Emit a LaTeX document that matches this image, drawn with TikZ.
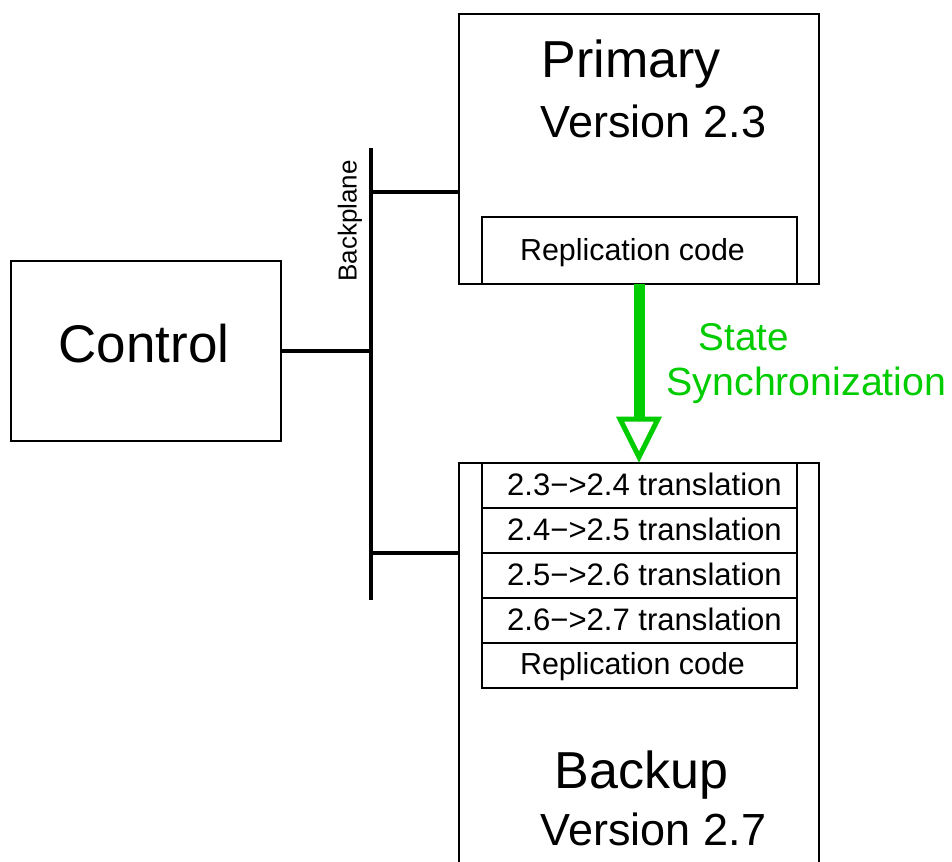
\documentclass[tikz,border=0pt]{standalone}
\usepackage{fontspec}
\setmainfont{Liberation Sans}
\definecolor{syncgreen}{RGB}{0,204,0}
\newcommand\pxfont[1]{\fontsize{#1}{#1}\selectfont}
\newcommand\tominus{\symbol{"2212}}
\begin{document}
\begin{tikzpicture}[x=0.75pt,y=-0.75pt,
  box/.style={draw, line width=1.1pt, inner sep=0pt, outer sep=0pt},
  bus/.style={line width=2.3pt},
  lbl/.style={inner sep=0pt, anchor=base},
  sync/.style={draw=syncgreen, line width=8.25pt, line cap=butt},
  synchead/.style={draw=syncgreen, fill=white, line width=3.75pt, line join=miter},
  rowbox/.style={box, minimum width=236.25pt, minimum height=33.75pt}]

\useasboundingbox (0,0) rectangle (952,861);
\clip (0,0) rectangle (952,861);

% Control unit
\node[box, minimum width=202.5pt, minimum height=135pt] (control) at (146,351) {};
\node[lbl] (controltxt) at (144,362) {\pxfont{39.75}Control};

% Primary unit
\node[box, minimum width=270pt, minimum height=202.5pt] (primary) at (639,149) {};
\node[lbl] (primtitle) at (631,77) {\pxfont{39}Primary};
\node[lbl] (primver) at (653.5,137) {\pxfont{33.75}Version 2.3};
\node[box, minimum width=236.25pt, minimum height=50.25pt] (primrep) at (639.5,250.5) {};
\node[lbl] (primreptxt) at (632.5,260) {\pxfont{22.8}Replication code};

% Backup unit with its translation stack
\node[box, minimum width=270pt, minimum height=327.75pt] (backup) at (639,681.5) {};
\node[rowbox] (t1) at (639.5,485.5) {};
\node[rowbox] (t2) at (639.5,530.5) {};
\node[rowbox] (t3) at (639.5,575.5) {};
\node[rowbox] (t4) at (639.5,620.5) {};
\node[rowbox] (backrep) at (639.5,665.5) {};
\node[lbl] (t1txt) at (644.5,495) {\pxfont{23.3}2.3\tominus>2.4 translation};
\node[lbl] (t2txt) at (644.5,540) {\pxfont{23.3}2.4\tominus>2.5 translation};
\node[lbl] (t3txt) at (644.5,585) {\pxfont{23.3}2.5\tominus>2.6 translation};
\node[lbl] (t4txt) at (644.5,630) {\pxfont{23.3}2.6\tominus>2.7 translation};
\node[lbl] (backreptxt) at (632.5,674) {\pxfont{22.8}Replication code};
\node[lbl] (backtitle) at (641.5,788) {\pxfont{39}Backup};
\node[lbl] (backver) at (653.5,845) {\pxfont{33.75}Version 2.7};

% Backplane bus
\coordinate (bustop) at (371,148);
\coordinate (busbot) at (371,600);
\coordinate (tap1) at (371,192);
\coordinate (tap2) at (371,553);
\draw[bus] (bustop) -- (busbot);
\draw[bus] (control.east) -- (control.east -| bustop);
\draw[bus] (tap1) -- (tap1 -| primary.west);
\draw[bus] (tap2) -- (tap2 -| backup.west);
\node[inner sep=0pt, rotate=90] (bplabel) at (350,221) {\pxfont{19.5}Backplane};

% State synchronization arrow
\path (backup.north) ++(0,-44) coordinate (headbase);
\draw[sync] (primary.south) -- (headbase);
\draw[synchead] (backup.north) ++(0,-6) -- ++(-19,-38) -- ++(38,0) -- cycle;
\node[lbl, text=syncgreen] (statetxt) at (744,350) {\pxfont{29}State};
\node[lbl, text=syncgreen] (synctxt) at (806.5,395) {\pxfont{29.5}Synchronization};

\end{tikzpicture}
\end{document}
